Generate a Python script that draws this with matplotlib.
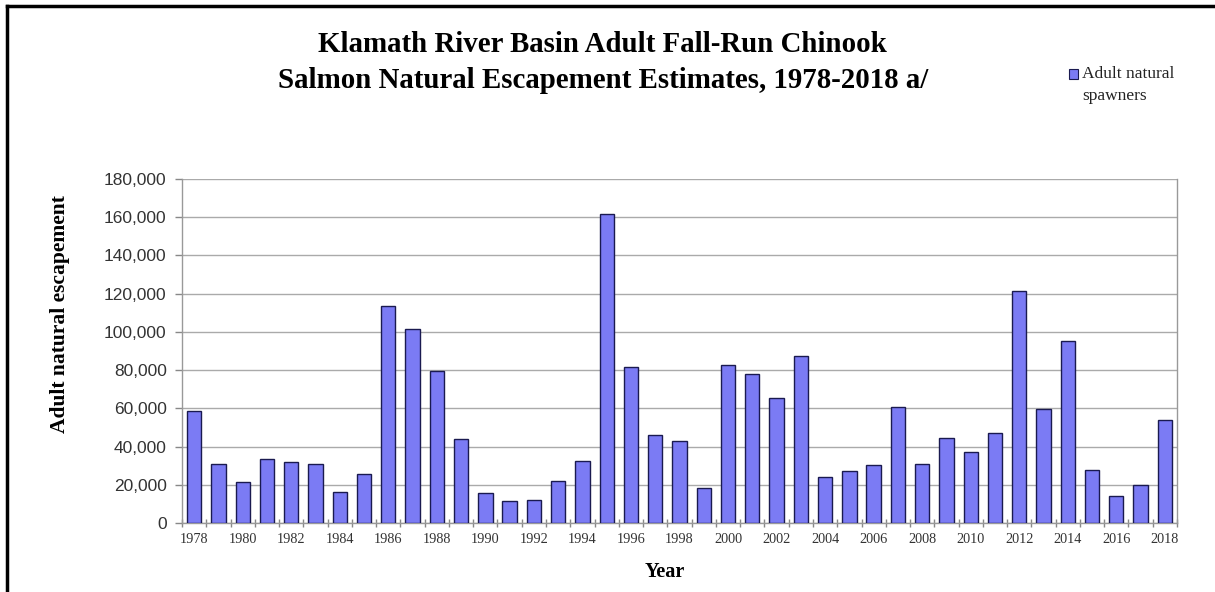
import matplotlib
matplotlib.use("Agg")
import matplotlib.pyplot as plt
from matplotlib.lines import Line2D
from matplotlib.patches import Rectangle
import numpy as np

years = list(range(1978, 2019))
spawners = [58700, 30900, 21500, 33700, 32000, 30900, 16200, 25800, 113300, 101400,
            79600, 43800, 15700, 11500, 12000, 22200, 32300, 161900, 81400, 46300,
            42800, 18200, 82600, 77900, 65500, 87600, 23900, 27100, 30400, 60800,
            30900, 44500, 37000, 47000, 121500, 59400, 95200, 27900, 14000, 20100,
            53800]
title_lines = ["Klamath River Basin Adult Fall-Run Chinook",
               "Salmon Natural Escapement Estimates, 1978-2018 a/"]
ylabel = "Adult natural escapement"
xlabel = "Year"
legend_lines = ["Adult natural", "spawners"]
yticks = list(range(0, 180001, 20000))

W, H = 1215, 592
fig = plt.figure(figsize=(W / 100, H / 100), dpi=100)
fig.patch.set_facecolor("white")

L, R, T, B = 182, 1177, 179, 523
ax = fig.add_axes([L / W, 1 - B / H, (R - L) / W, (B - T) / H])

x = np.arange(len(years))
ax.bar(x, spawners, width=0.59, color="#7b7bf4", edgecolor="#1a1a50", linewidth=1.0, zorder=3)

ax.set_xlim(-0.5, len(years) - 0.5)
ax.set_ylim(0, 180000)
ax.set_yticks(yticks)
ax.set_yticklabels([f"{v:,}" for v in yticks], fontfamily="Liberation Sans", fontsize=12.5, color="#333333")
ax.grid(axis="y", color="#aaaaaa", linewidth=1.0, zorder=0)
ax.tick_params(axis="y", direction="out", length=5, color="#888888", width=1, pad=6)

lab_pos = x[::2]
ax.set_xticks(lab_pos)
ax.set_xticklabels([str(years[i]) for i in lab_pos], fontfamily="Liberation Serif", fontsize=10.3, color="#333333")
ax.tick_params(axis="x", which="major", length=0, pad=7)
ax.set_xticks(np.arange(-0.5, len(years), 1.0), minor=True)
ax.tick_params(axis="x", which="minor", direction="inout", length=6, color="#888888", width=1)

for s in ["left", "right", "bottom", "top"]:
    ax.spines[s].set_color("#999999")
    ax.spines[s].set_linewidth(1.0)
ax.spines["top"].set_visible(False)

fig.text(60 / W, 1 - 314 / H, ylabel, rotation=90, ha="center", va="center",
         fontfamily="Liberation Serif", fontweight="bold", fontsize=15.5)
fig.text(665 / W, 1 - 572 / H, xlabel, ha="center", va="center",
         fontfamily="Liberation Serif", fontweight="bold", fontsize=14.5)

fig.text(602 / W, 1 - 45 / H, title_lines[0], ha="center", va="center", fontfamily="Liberation Serif",
         fontweight="bold", fontsize=20.8)
fig.text(603 / W, 1 - 80 / H, title_lines[1], ha="center", va="center", fontfamily="Liberation Serif",
         fontweight="bold", fontsize=20.8)

# legend
fig.patches.append(Rectangle((1069 / W, 1 - 79 / H), 9 / W, 10 / H, transform=fig.transFigure,
                             facecolor="#7b7bf4", edgecolor="#1a1a50", linewidth=0.8))
fig.text(1082 / W, 1 - 74 / H, legend_lines[0], ha="left", va="center", fontfamily="Liberation Serif", fontsize=12.5, color="#222222")
fig.text(1082 / W, 1 - 96 / H, legend_lines[1], ha="left", va="center", fontfamily="Liberation Serif", fontsize=12.5, color="#222222")

# outer frame (top and left)
fig.add_artist(Line2D([7 / W, 1], [1 - 6 / H, 1 - 6 / H], transform=fig.transFigure, color="black", linewidth=2.5))
fig.add_artist(Line2D([7 / W, 7 / W], [0, 1 - 6 / H], transform=fig.transFigure, color="black", linewidth=2.5))

fig.savefig("out.png", dpi=100, facecolor="white")
